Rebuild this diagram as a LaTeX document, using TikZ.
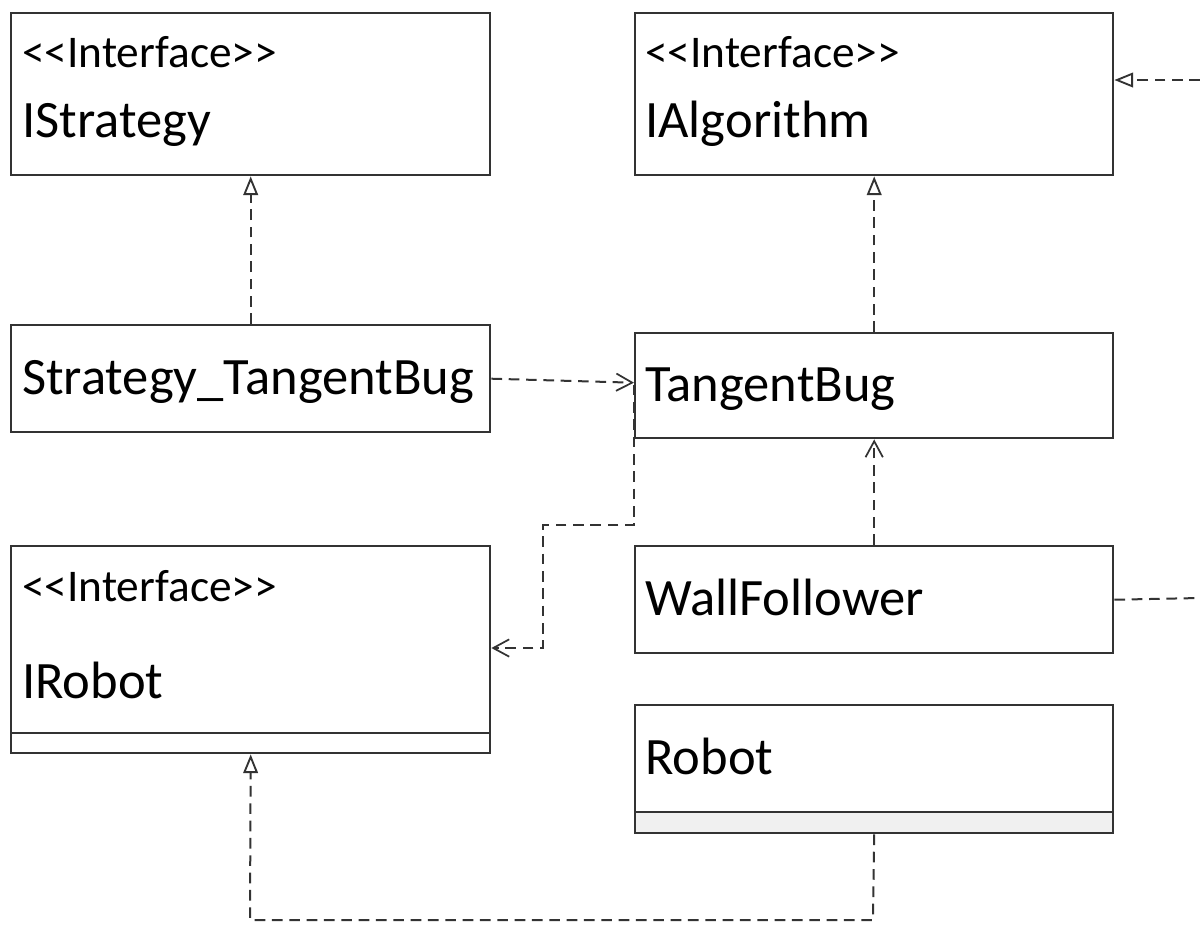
\documentclass[tikz,border=0pt]{standalone}
\usepackage{fontspec}
\setmainfont{Carlito}
\usetikzlibrary{arrows.meta,calc}
\definecolor{edge}{HTML}{333333}
\definecolor{compfill}{HTML}{F0F0F0}
% stereotype brackets kept as plain angle signs
\newcommand{\stereotype}[1]{<\kern0pt<#1>\kern0pt>}
\begin{document}
\begin{tikzpicture}[x=0.75pt,y=-0.75pt,
  classbox/.style={draw=edge,line width=1.8pt,inner sep=0pt,anchor=north west},
  title/.style={anchor=base west,inner sep=0pt,font=\fontsize{39.4}{47}\selectfont},
  stereo/.style={anchor=base west,inner sep=0pt,font=\fontsize{34}{40}\selectfont},
  dep/.style={draw=edge,line width=1.5pt,dash pattern=on 8pt off 5pt},
  realize/.style={dep,-{Triangle[open,length=14pt,width=11pt,line width=1.4pt]}},
  use/.style={dep,-{Straight Barb[length=12pt,width=13pt,line width=1.3pt]}},
  divider/.style={draw=edge,line width=2.1pt},
]
\useasboundingbox (0,0) rectangle (1200,926);

% operation compartment of Robot
\fill[compfill] (634,812) rectangle (1112,832);

% class boxes
\node[classbox,minimum width=359.25pt,minimum height=121.5pt] (istr) at (10,12) {};
\node[classbox,minimum width=358.5pt,minimum height=121.5pt] (ialg) at (634,12) {};
\node[classbox,minimum width=359.25pt,minimum height=80.25pt] (stb) at (10,324) {};
\node[classbox,minimum width=358.5pt,minimum height=78.75pt] (tb) at (634,332) {};
\node[classbox,minimum width=359.25pt,minimum height=155.25pt] (irob) at (10,545) {};
\node[classbox,minimum width=358.5pt,minimum height=80.25pt] (wf) at (634,545) {};
\node[classbox,minimum width=358.5pt,minimum height=96pt] (rob) at (634,704) {};

% compartment dividers
\draw[divider] (irob.west |- {(0,733)}) -- (irob.east |- {(0,733)});
\draw[divider] (rob.west |- {(0,812)}) -- (rob.east |- {(0,812)});

% labels
\node[stereo] (istrS) at (22,67) {\stereotype{Interface}};
\node[title] (istrT) at (22,137) {IStrategy};
\node[stereo] (ialgS) at (645,67) {\stereotype{Interface}};
\node[title] (ialgT) at (645,137) {IAlgorithm};
\node[title] (stbT) at (22,394) {Strategy\_TangentBug};
\node[title] (tbT) at (645,401) {TangentBug};
\node[stereo] (irobS) at (22,601) {\stereotype{Interface}};
\node[title] (irobT) at (22,698) {IRobot};
\node[title] (wfT) at (645,615) {WallFollower};
\node[title] (robT) at (645,774) {Robot};

% routing points
\coordinate (k1) at (634,525);
\coordinate (k2) at (543,525);
\coordinate (k3) at (543,648);
\coordinate (r1) at (873,920);
\coordinate (r2) at (250,920);
\coordinate (offA) at (1200,80);
\coordinate (offW) at (1200,598);

% realizations
\draw[realize] (stb.north) -- (istr.south);
\draw[realize] (tb.north) -- (ialg.south);
\draw[realize] (rob.south) -- (r1) -- (r2) -- (irob.south);
\draw[realize] (offA) -- (ialg.east |- offA);

% dependencies
\draw[use] (stb.east) -- ($(tb.west)+(0,-3)$);
\draw[use] (wf.north) -- (tb.south);
\draw[use] ($(tb.west)+(0,-1)$) -- (k1) -- (k2) -- (k3) -- (irob.east |- k3);
\draw[dep] (wf.east) -- (offW);
\end{tikzpicture}
\end{document}
